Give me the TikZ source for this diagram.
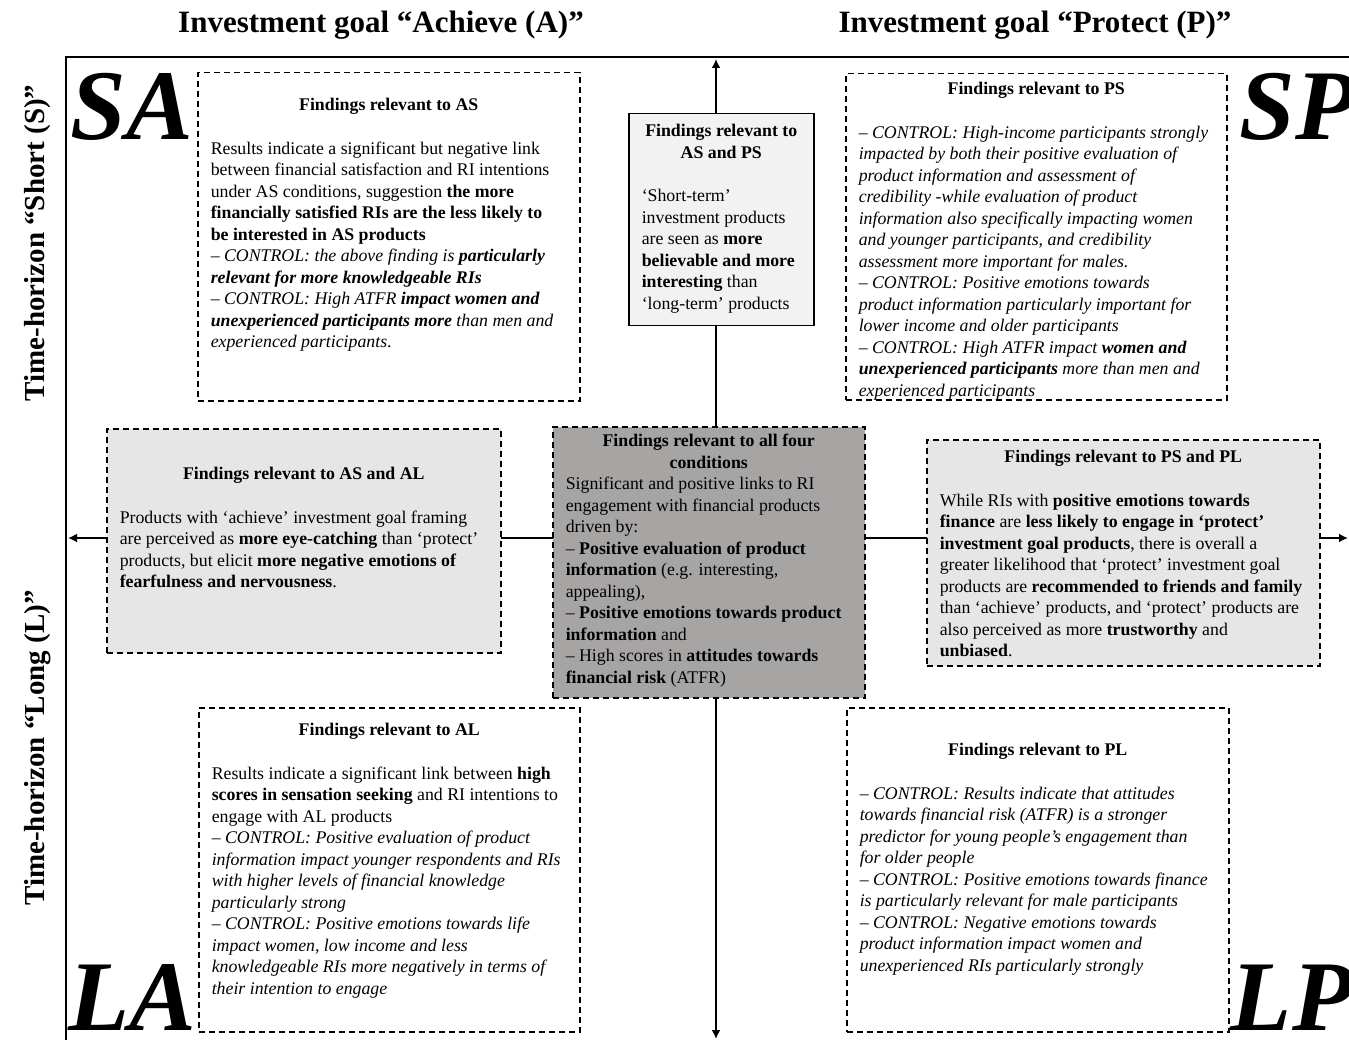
\documentclass[tikz,border=0pt]{standalone}
\usepackage{fontspec}
\setmainfont{Liberation Serif}
\usepackage{array}
\usetikzlibrary{arrows.meta}

\definecolor{paleGray}{HTML}{F2F2F2}
\definecolor{lightGray}{HTML}{E6E6E6}
\definecolor{darkGray}{HTML}{A7A4A4}

% fixed-size text block inside a findings box: width, height, top gap, content
\newcommand{\boxtext}[4]{\parbox[c][#2][t]{#1}{\vspace*{#3}#4}}
\newcommand{\boxhead}[1]{{\centering\strut\textbf{#1}\par}}

\begin{document}
\begin{tikzpicture}[x=1pt, y=-1pt,
    findbox/.style={draw, dash pattern=on 6pt off 4pt, line width=1.5pt, fill=white,
        inner xsep=13pt, inner ysep=0pt, anchor=north west,
        font=\fontsize{17.8}{21.5}\selectfont},
    solidbox/.style={findbox, solid},
    goal/.style={font=\fontsize{31}{36}\selectfont\bfseries},
    horizon/.style={rotate=90, font=\fontsize{29}{34}\selectfont\bfseries},
    corner/.style={anchor=base, inner sep=0pt, font=\fontsize{100}{100}\selectfont\bfseries\itshape},
    axis/.style={line width=2.8pt, arrows={Latex[length=9pt,width=9pt]-Latex[length=9pt,width=9pt]}}]
    \useasboundingbox (0,0) rectangle (1349,1040);

    % frame and headings
    \draw[line width=1.8pt] (1349,57) -| (66,1040);
    \node[goal] (goalA) at (381,25) {Investment goal “Achieve (A)”};
    \node[goal] (goalP) at (1035,25) {Investment goal “Protect (P)”};
    \node[horizon] (horS) at (38,243) {Time-horizon “Short (S)”};
    \node[horizon] (horL) at (38,748) {Time-horizon “Long (L)”};

    % axes
    \coordinate (vTop) at (716,59);
    \coordinate (vBot) at (716,1039);
    \coordinate (hLeft) at (68,538);
    \coordinate (hRight) at (1348,538);
    \draw[axis] (vTop) -- (vBot);
    \draw[axis] (hLeft) -- (hRight);

    % quadrant letters
    \node[corner] (SA) at (132,140) {SA};
    \node[corner] (SP) at (1298,140) {SP};
    \node[corner] (LA) at (132,1030) {LA};
    \node[corner] (LP) at (1292,1030) {LP};

    % findings boxes
    \node[findbox] (AS) at (197,72) {\boxtext{356pt}{328pt}{23pt}{%
        \boxhead{Findings relevant to AS}\vspace{22pt}\noindent
        \begin{tabular}[t]{@{}l@{}}
        Results indicate a significant but negative link\\
        between financial satisfaction and RI intentions\\
        under AS conditions, suggestion \textbf{the more}\\
        \textbf{financially satisfied RIs are the less likely to}\\
        \textbf{be interested in AS products}\\
        \textit{– CONTROL: the above finding is \textbf{particularly}}\\
        \textit{\textbf{relevant for more knowledgeable RIs}}\\
        \textit{– CONTROL: High ATFR \textbf{impact women and}}\\
        \textit{\textbf{unexperienced participants more} than men and}\\
        \textit{experienced participants}.
        \end{tabular}}};

    \node[solidbox, fill=paleGray] (ASPS) at (628,113) {\boxtext{159pt}{212pt}{8pt}{%
        {\centering\strut\textbf{Findings relevant to}\\\textbf{AS and PS}\par}\vspace{22pt}\noindent
        \begin{tabular}[t]{@{}l@{}}
        ‘Short-term’\\
        investment products\\
        are seen as \textbf{more}\\
        \textbf{believable and more}\\
        \textbf{interesting} than\\
        ‘long-term’ products
        \end{tabular}}};

    \node[findbox] (PS) at (845,73) {\boxtext{355pt}{326pt}{6pt}{%
        \boxhead{Findings relevant to PS}\vspace{22pt}\noindent
        \begin{tabular}[t]{@{}>{\itshape}l@{}}
        – CONTROL: High-income participants strongly\\
        impacted by both their positive evaluation of\\
        product information and assessment of\\
        credibility -while evaluation of product\\
        information also specifically impacting women\\
        and younger participants, and credibility\\
        assessment more important for males.\\
        – CONTROL: Positive emotions towards\\
        product information particularly important for\\
        lower income and older participants\\
        – CONTROL: High ATFR impact \textbf{women and}\\
        \textbf{unexperienced participants} more than men and\\
        experienced participants
        \end{tabular}}};

    \node[findbox, fill=lightGray] (ASAL) at (106,428) {\boxtext{368pt}{224pt}{36pt}{%
        \boxhead{Findings relevant to AS and AL}\vspace{22pt}\noindent
        \begin{tabular}[t]{@{}l@{}}
        Products with ‘achieve’ investment goal framing\\
        are perceived as \textbf{more eye-catching} than ‘protect’\\
        products, but elicit \textbf{more negative emotions of}\\
        \textbf{fearfulness and nervousness}.
        \end{tabular}}};

    \node[findbox, fill=darkGray] (ALL) at (552,426) {\boxtext{286pt}{271pt}{5pt}{%
        {\centering\strut\textbf{Findings relevant to all four}\\\textbf{conditions}\par}\noindent
        \begin{tabular}[t]{@{}l@{}}
        Significant and positive links to RI\\
        engagement with financial products\\
        driven by:\\
        – \textbf{Positive evaluation of product}\\
        \textbf{information} (e.g. interesting,\\
        appealing),\\
        – \textbf{Positive emotions towards product}\\
        \textbf{information} and\\
        – High scores in \textbf{attitudes towards}\\
        \textbf{financial risk} (ATFR)
        \end{tabular}}};

    \node[findbox, fill=lightGray] (PSPL) at (926,439) {\boxtext{367pt}{226pt}{8pt}{%
        \boxhead{Findings relevant to PS and PL}\vspace{22pt}\noindent
        \begin{tabular}[t]{@{}l@{}}
        While RIs with \textbf{positive emotions towards}\\
        \textbf{finance} are \textbf{less likely to engage in ‘protect’}\\
        \textbf{investment goal products}, there is overall a\\
        greater likelihood that ‘protect’ investment goal\\
        products are \textbf{recommended to friends and family}\\
        than ‘achieve’ products, and ‘protect’ products are\\
        also perceived as more \textbf{trustworthy} and\\
        \textbf{unbiased}.
        \end{tabular}}};

    \node[findbox] (AL) at (198,707) {\boxtext{355pt}{324pt}{13pt}{%
        \boxhead{Findings relevant to AL}\vspace{22pt}\noindent
        \begin{tabular}[t]{@{}l@{}}
        Results indicate a significant link between \textbf{high}\\
        \textbf{scores in sensation seeking} and RI intentions to\\
        engage with AL products\\
        \textit{– CONTROL: Positive evaluation of product}\\
        \textit{information impact younger respondents and RIs}\\
        \textit{with higher levels of financial knowledge}\\
        \textit{particularly strong}\\
        \textit{– CONTROL: Positive emotions towards life}\\
        \textit{impact women, low income and less}\\
        \textit{knowledgeable RIs more negatively in terms of}\\
        \textit{their intention to engage}
        \end{tabular}}};

    \node[findbox] (PL) at (846,707) {\boxtext{356pt}{324pt}{33pt}{%
        \boxhead{Findings relevant to PL}\vspace{22pt}\noindent
        \begin{tabular}[t]{@{}>{\itshape}l@{}}
        – CONTROL: Results indicate that attitudes\\
        towards financial risk (ATFR) is a stronger\\
        predictor for young people’s engagement than\\
        for older people\\
        – CONTROL: Positive emotions towards finance\\
        is particularly relevant for male participants\\
        – CONTROL: Negative emotions towards\\
        product information impact women and\\
        unexperienced RIs particularly strongly
        \end{tabular}}};
\end{tikzpicture}
\end{document}
